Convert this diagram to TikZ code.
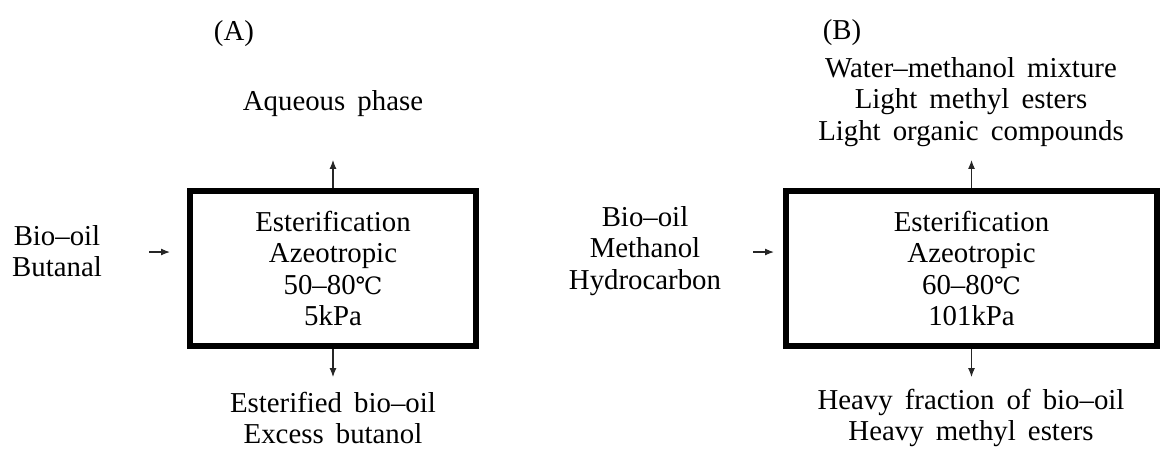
\documentclass[tikz,border=0pt]{standalone}
\usepackage{fontspec}
\setmainfont{Liberation Serif}
\newfontfamily\degfont{DejaVu Serif}
\usetikzlibrary{arrows.meta}
\newcommand{\degC}{{\degfont\fontsize{17}{22}\selectfont ℃}}
\newcommand{\labelfont}{\fontsize{20.5}{22.5}\selectfont
  \spaceskip=0.42em plus 0.1em minus 0.05em\relax}

\begin{document}
\begin{tikzpicture}[
        x=0.025cm,y=-0.025cm,>=Latex,
        every node/.style={align=center,font=\labelfont},
        unit/.style={rectangle,draw=black,line width=.15cm,fill=white,
          inner sep=0pt},
        flow/.style={-{Latex[length=2.2mm,width=1.7mm]},draw=black!85,
          line width=.8pt}
      ]
        \useasboundingbox (0,0) rectangle (1163,456);

        % (A)
        \node (labA) at (234,34) {(A)};
        \node[unit,minimum width=7.15cm,minimum height=3.875cm] (boxA)
          at (333,268.5) {Esterification\\Azeotropic\\50--80\degC\\5kPa};
        \node (inA) at (57,251) {Bio--oil\\Butanal};
        \node (topA) at (333,104) {Aqueous phase};
        \node (botA) at (333,418) {Esterified bio--oil\\Excess butanol};

        % (B)
        \node (labB) at (842,33) {(B)};
        \node[unit,minimum width=9.275cm,minimum height=3.875cm] (boxB)
          at (971.5,268.5) {Esterification\\Azeotropic\\60--80\degC\\101kPa};
        \node (inB) at (645,251) {Bio--oil\\Methanol\\Hydrocarbon};
        \node (topB) at (971,102)
          {Water--methanol mixture\\Light methyl esters\\Light organic compounds};
        \node (botB) at (971,418) {Heavy fraction of bio--oil\\Heavy methyl esters};

        \coordinate (feedA) at (149,252);
        \coordinate (feedB) at (753,252);

        \foreach \b/\f/\g in {boxA/feedA/17,boxB/feedB/9}{
          \draw[flow] (\f) -- ([xshift=-\g*0.025cm]\f -| \b.west);
          \draw[flow] (\b.north) -- ++(0,-28);
          \draw[flow] (\b.south) -- ++(0,28);
        }
      \end{tikzpicture}
\end{document}
